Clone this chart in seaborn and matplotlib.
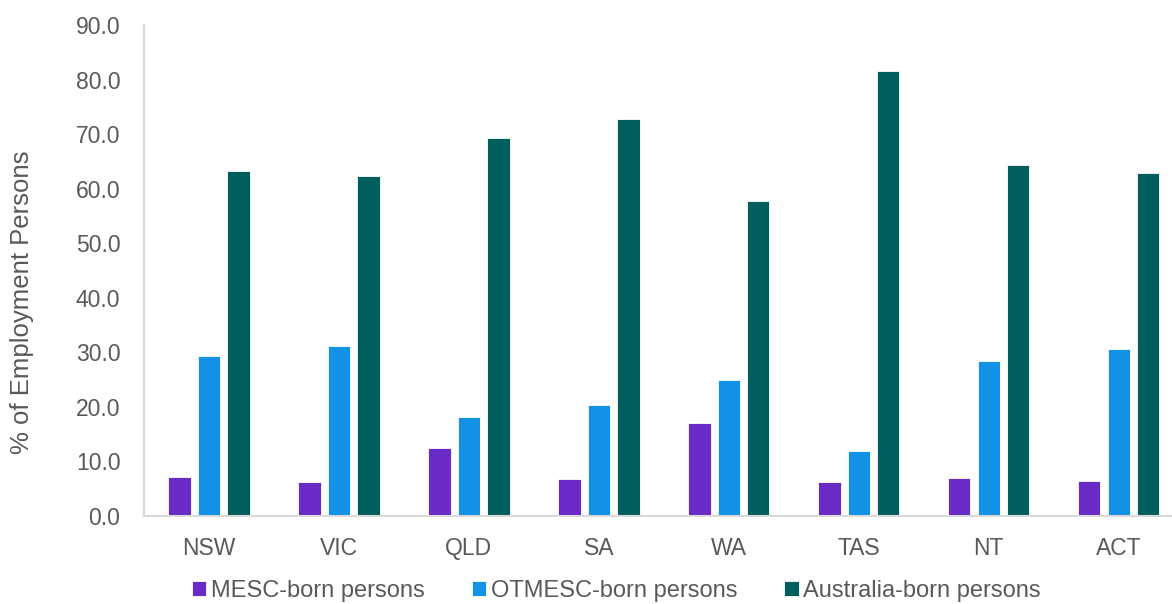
import matplotlib
matplotlib.use("Agg")
import matplotlib.pyplot as plt
import seaborn as sns
import pandas as pd

states = ["NSW", "VIC", "QLD", "SA", "WA", "TAS", "NT", "ACT"]
mesc = [7.2, 6.3, 12.4, 6.8, 17.0, 6.3, 6.9, 6.5]
otmesc = [29.4, 31.1, 18.2, 20.3, 24.9, 12.0, 28.4, 30.6]
aus = [63.2, 62.3, 69.2, 72.8, 57.7, 81.6, 64.3, 62.8]
series_names = ["MESC-born persons", "OTMESC-born persons", "Australia-born persons"]
colors = ["#6A2AC5", "#1391E6", "#005F5D"]
yticks = [0, 10, 20, 30, 40, 50, 60, 70, 80, 90]

df = pd.DataFrame({
    "State": states * 3,
    "Series": [series_names[0]] * 8 + [series_names[1]] * 8 + [series_names[2]] * 8,
    "Value": mesc + otmesc + aus,
})

sns.set_theme(style="white")
plt.rcParams["font.family"] = ["Liberation Sans", "DejaVu Sans"]

fig = plt.figure(figsize=(11.72, 6.04), dpi=100)
ax = fig.add_axes([144 / 1172, 1 - 516 / 604, (1172 - 144) / 1172, (516 - 25) / 604])

sns.barplot(data=df, x="State", y="Value", hue="Series", order=states,
            hue_order=series_names, palette=colors, saturation=1, width=0.68, gap=0.24,
            edgecolor="white", linewidth=0.6, ax=ax, legend=True)

ax.set_ylim(0, 90)
ax.set_xlim(-0.5, 7.41)
ax.set_yticks(yticks)
ax.set_yticklabels([f"{v:.1f}" for v in yticks])
ax.tick_params(axis="both", length=0, labelsize=16.5, colors="#595959")
ax.tick_params(axis="y", pad=17)
ax.tick_params(axis="x", pad=15)
ax.set_xlabel("")
ax.set_ylabel("% of Employment Persons", fontsize=18.5, color="#595959")
ax.yaxis.set_label_coords(-0.107, 0.436)
for s in ["top", "right"]:
    ax.spines[s].set_visible(False)
for s in ["left", "bottom"]:
    ax.spines[s].set_color("#D9D9D9")
    ax.spines[s].set_linewidth(1.5)

handles, labels = ax.get_legend_handles_labels()
ax.get_legend().remove()
leg = fig.legend(handles, labels, loc="lower center", bbox_to_anchor=(0.526, 0.0),
                 ncol=3, frameon=False, fontsize=17, handlelength=0.6,
                 handleheight=0.6, handletextpad=0.2, columnspacing=2.0,
                 borderaxespad=0.0, borderpad=0.1)
for t in leg.get_texts():
    t.set_color("#595959")

fig.savefig("out.png", dpi=100)
